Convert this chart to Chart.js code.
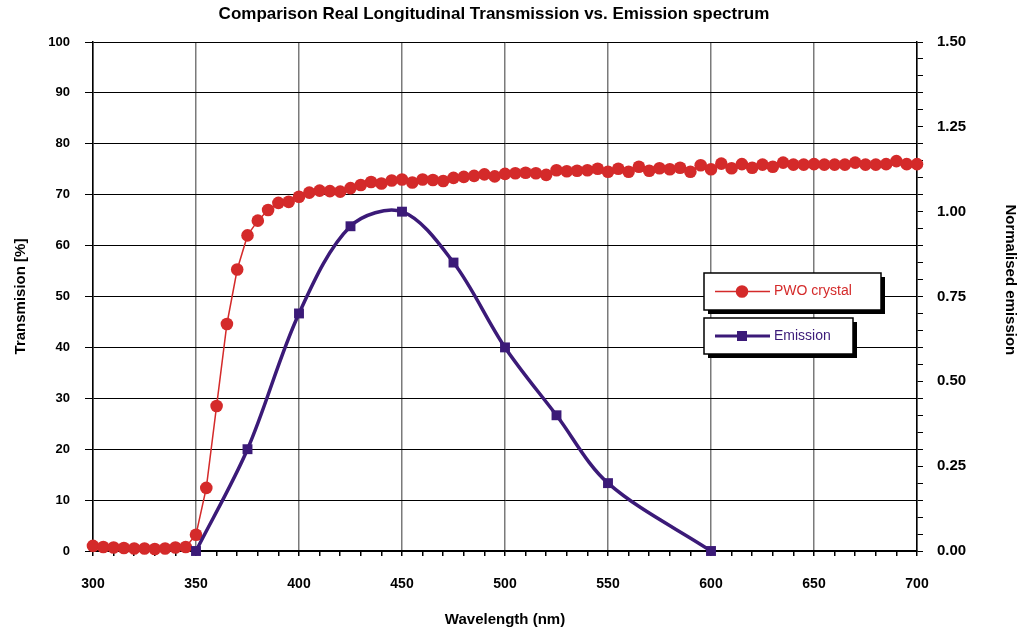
<!DOCTYPE html>
<html>
<head>
<meta charset="utf-8">
<script src="https://cdn.jsdelivr.net/npm/chart.js@4.4.0/dist/chart.umd.min.js"></script>
<style>
  html, body { margin: 0; padding: 0; background: #fff; }
</style>
</head>
<body>
<canvas id="chart" width="1021" height="633"></canvas>
<script>
// PWO crystal transmission, every 5 nm
const pwoWavelength = [
  300, 305, 310, 315, 320, 325, 330, 335, 340, 345,
  350, 355, 360, 365, 370, 375, 380, 385, 390, 395,
  400, 405, 410, 415, 420, 425, 430, 435, 440, 445,
  450, 455, 460, 465, 470, 475, 480, 485, 490, 495,
  500, 505, 510, 515, 520, 525, 530, 535, 540, 545,
  550, 555, 560, 565, 570, 575, 580, 585, 590, 595,
  600, 605, 610, 615, 620, 625, 630, 635, 640, 645,
  650, 655, 660, 665, 670, 675, 680, 685, 690, 695, 700
];
const pwoTransmission = [
  1.0, 0.8, 0.7, 0.6, 0.5, 0.5, 0.4, 0.5, 0.7, 0.8,
  3.2, 12.4, 28.5, 44.6, 55.3, 62.0, 64.9, 67.0, 68.4, 68.6,
  69.6, 70.4, 70.8, 70.7, 70.6, 71.3, 71.9, 72.5, 72.2, 72.8,
  73.0, 72.4, 73.0, 72.9, 72.7, 73.3, 73.5, 73.7, 74.0, 73.6,
  74.1, 74.2, 74.3, 74.2, 73.9, 74.8, 74.6, 74.7, 74.8, 75.1,
  74.5, 75.1, 74.5, 75.5, 74.7, 75.2, 75.0, 75.3, 74.5, 75.8,
  75.0, 76.1, 75.2, 76.0, 75.3, 75.9, 75.5, 76.3, 75.9, 75.9,
  76.0, 75.9, 75.9, 75.9, 76.3, 75.9, 75.9, 76.0, 76.6, 76.0, 76.0
];

// normalised emission spectrum
const emissionWavelength = [350, 375, 400, 425, 450, 475, 500, 525, 550, 600];
const emissionValue = [0, 0.30, 0.70, 0.957, 1.0, 0.85, 0.60, 0.40, 0.20, 0];

const RED = '#d42a2a';
const PURPLE = '#3b1a78';
const FONT = 'Liberation Sans, Arial, sans-serif';

const pwoPoints = pwoWavelength.map((w, i) => ({ x: w, y: pwoTransmission[i] }));
const emissionPoints = emissionWavelength.map((w, i) => ({ x: w, y: emissionValue[i] }));

// two boxed legend entries with a drop shadow
const boxLegend = {
  id: 'boxLegend',
  afterDraw(chart) {
    const ctx = chart.ctx;
    const items = [
      { x: 704, y: 273, w: 177, h: 37, color: RED, text: 'PWO crystal', style: 'circle', lw: 1.5 },
      { x: 704, y: 318, w: 149, h: 36, color: PURPLE, text: 'Emission', style: 'rect', lw: 3 }
    ];
    ctx.save();
    items.forEach(it => {
      ctx.fillStyle = '#000';
      ctx.fillRect(it.x + 4, it.y + 4, it.w, it.h);
      ctx.fillStyle = '#fff';
      ctx.fillRect(it.x, it.y, it.w, it.h);
      ctx.strokeStyle = '#000';
      ctx.lineWidth = 1.5;
      ctx.strokeRect(it.x, it.y, it.w, it.h);
      const cy = it.y + it.h / 2;
      ctx.strokeStyle = it.color;
      ctx.lineWidth = it.lw;
      ctx.beginPath();
      ctx.moveTo(it.x + 11, cy);
      ctx.lineTo(it.x + 66, cy);
      ctx.stroke();
      ctx.fillStyle = it.color;
      if (it.style === 'circle') {
        ctx.beginPath();
        ctx.arc(it.x + 38, cy, 6.3, 0, Math.PI * 2);
        ctx.fill();
      } else {
        ctx.fillRect(it.x + 33, cy - 5, 10, 10);
      }
      ctx.font = '14px ' + FONT;
      ctx.textBaseline = 'middle';
      ctx.fillText(it.text, it.x + 70, cy);
    });
    ctx.restore();
  }
};

new Chart(document.getElementById('chart'), {
  type: 'line',
  data: {
    datasets: [{
      label: 'PWO crystal',
      data: pwoPoints,
      borderColor: RED,
      backgroundColor: RED,
      borderWidth: 1.5,
      pointRadius: 6.3,
      pointBorderWidth: 0,
      pointBackgroundColor: RED,
      tension: 0,
      clip: false,
      order: 2,
      yAxisID: 'y'
    }, {
      label: 'Emission',
      data: emissionPoints,
      borderColor: PURPLE,
      backgroundColor: PURPLE,
      borderWidth: 3.5,
      pointStyle: 'rect',
      pointRadius: 7,
      pointBorderWidth: 0,
      pointBackgroundColor: PURPLE,
      tension: 0.33,
      clip: false,
      order: 1,
      yAxisID: 'y1'
    }]
  },
  options: {
    responsive: false,
    animation: false,
    layout: { padding: 0 },
    plugins: {
      legend: { display: false },
      tooltip: { enabled: false },
      title: {
        display: true,
        // trailing spaces nudge the centred title a little to the left, as in the original
        text: 'Comparison Real Longitudinal Transmission vs. Emission spectrum       ',
        color: '#000',
        font: { family: FONT, size: 17, weight: 'bold' },
        padding: { top: 4, bottom: 17.6 }
      }
    },
    scales: {
      x: {
        type: 'linear',
        min: 300,
        max: 700,
        afterFit: s => { s.height = 82; },
        ticks: {
          stepSize: 10,
          autoSkip: false,
          maxRotation: 0,
          padding: 20,
          color: '#000',
          font: { family: FONT, size: 14, weight: 'bold' },
          callback: v => (v % 50 === 0 ? v : '')
        },
        grid: {
          color: c => (c.tick && c.tick.value % 50 === 0 ? '#7a7a7a' : 'rgba(0,0,0,0)'),
          lineWidth: 1.5,
          tickColor: '#000',
          tickLength: 5
        },
        border: { color: '#000', width: 1.5 },
        title: {
          display: true,
          text: 'Wavelength (nm)',
          color: '#000',
          font: { family: FONT, size: 15, weight: 'bold' },
          padding: { top: 4, bottom: 4 }
        }
      },
      y: {
        position: 'left',
        min: 0,
        max: 100,
        afterFit: s => { s.width = 93; },
        ticks: {
          stepSize: 10,
          padding: 15,
          color: '#000',
          font: { family: FONT, size: 13, weight: 'bold' }
        },
        grid: { color: '#000', lineWidth: 1, tickLength: 8 },
        border: { color: '#000', width: 1.5 },
        title: {
          display: true,
          text: 'Transmision [%]',
          color: '#000',
          font: { family: FONT, size: 15, weight: 'bold' },
          padding: { top: 12, bottom: 4 }
        }
      },
      y1: {
        position: 'right',
        min: 0,
        max: 1.5,
        afterFit: s => { s.width = 104; },
        ticks: {
          stepSize: 0.05,
          autoSkip: false,
          padding: 14,
          color: '#000',
          font: { family: FONT, size: 15, weight: 'bold' },
          callback: v => (Math.abs(v * 4 - Math.round(v * 4)) < 1e-6 ? v.toFixed(2) : '')
        },
        grid: { drawOnChartArea: false, color: '#000', tickLength: 6 },
        border: { color: '#000', width: 1.5 },
        title: {
          display: true,
          text: 'Normalised emission        ',
          color: '#000',
          font: { family: FONT, size: 15, weight: 'bold' },
          padding: { top: 2, bottom: 4 }
        }
      }
    }
  },
  plugins: [boxLegend]
});
</script>
</body>
</html>
